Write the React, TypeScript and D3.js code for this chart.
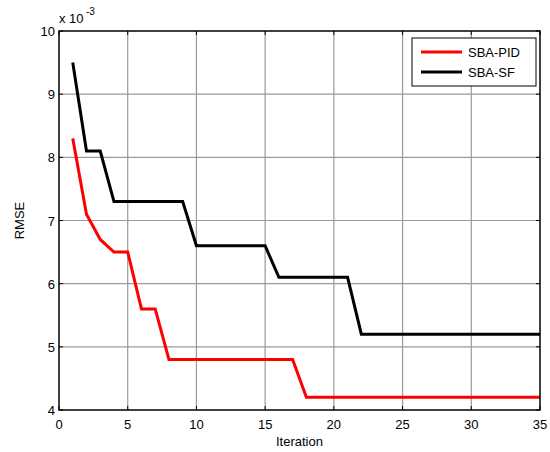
import React from "react";
import * as d3 from "d3";

const iterations = Array.from({ length: 35 }, (_, i) => i + 1);
// RMSE values (x 10^-3) per iteration
const sbaPid = [8.3, 7.1, 6.7, 6.5, 6.5, 5.6, 5.6, 4.8, 4.8, 4.8, 4.8, 4.8, 4.8, 4.8, 4.8, 4.8, 4.8, 4.2, 4.2, 4.2, 4.2, 4.2, 4.2, 4.2, 4.2, 4.2, 4.2, 4.2, 4.2, 4.2, 4.2, 4.2, 4.2, 4.2, 4.2];
const sbaSf = [9.5, 8.1, 8.1, 7.3, 7.3, 7.3, 7.3, 7.3, 7.3, 6.6, 6.6, 6.6, 6.6, 6.6, 6.6, 6.1, 6.1, 6.1, 6.1, 6.1, 6.1, 5.2, 5.2, 5.2, 5.2, 5.2, 5.2, 5.2, 5.2, 5.2, 5.2, 5.2, 5.2, 5.2, 5.2];
const xTicks = [0, 5, 10, 15, 20, 25, 30, 35];
const yTicks = [4, 5, 6, 7, 8, 9, 10];
const seriesNames = ["SBA-PID", "SBA-SF"];
const seriesColors = ["#ff0000", "#000000"];

const W = 550, H = 452;
const L = 59, R = 540, T = 31, B = 410;
const font = "'Liberation Sans', Arial, sans-serif";

export default function App() {
  const x = d3.scaleLinear().domain([0, 35]).range([L, R]);
  const y = d3.scaleLinear().domain([4, 10]).range([B, T]);
  const line = d3.line<number>().x((_, i) => x(iterations[i])).y((d) => y(d));
  const series = [sbaPid, sbaSf];
  const tk = 4;

  return (
    <svg width={W} height={H} style={{ position: "absolute", left: 0, top: 0 }} fontFamily={font}>
      <rect x={0} y={0} width={W} height={H} fill="#fff" />
      {/* grid */}
      {xTicks.slice(1, -1).map((t) => (
        <line key={"gx" + t} x1={x(t)} x2={x(t)} y1={T} y2={B} stroke="#9a9a9a" strokeWidth={1.2} />
      ))}
      {yTicks.slice(1, -1).map((t) => (
        <line key={"gy" + t} x1={L} x2={R} y1={y(t)} y2={y(t)} stroke="#9a9a9a" strokeWidth={1.2} />
      ))}
      {/* data */}
      {series.map((s, i) => (
        <path key={i} d={line(s) || ""} fill="none" stroke={seriesColors[i]} strokeWidth={3} strokeLinejoin="miter" />
      ))}
      {/* box */}
      <rect x={L} y={T} width={R - L} height={B - T} fill="none" stroke="#000" strokeWidth={1.5} />
      {/* ticks */}
      {xTicks.map((t) => (
        <g key={"tx" + t}>
          <line x1={x(t)} x2={x(t)} y1={B} y2={B - tk} stroke="#000" />
          <line x1={x(t)} x2={x(t)} y1={T} y2={T + tk} stroke="#000" />
          <text x={x(t)} y={B + 19} fontSize={13} textAnchor="middle">{t}</text>
        </g>
      ))}
      {yTicks.map((t) => (
        <g key={"ty" + t}>
          <line x1={L} x2={L + tk} y1={y(t)} y2={y(t)} stroke="#000" />
          <line x1={R} x2={R - tk} y1={y(t)} y2={y(t)} stroke="#000" />
          <text x={L - 4} y={y(t) + 5} fontSize={13} textAnchor="end">{t}</text>
        </g>
      ))}
      {/* exponent */}
      <text x={L} y={23} fontSize={13}>x 10</text>
      <text x={L + 27} y={15} fontSize={10}>-3</text>
      {/* axis labels */}
      <text x={(L + R) / 2} y={446} fontSize={13} textAnchor="middle">Iteration</text>
      <text transform={`translate(24,${(T + B) / 2}) rotate(-90)`} fontSize={13} textAnchor="middle">RMSE</text>
      {/* legend */}
      <rect x={412} y={38} width={124} height={48} fill="#fff" stroke="#000" strokeWidth={1} />
      {seriesNames.map((n, i) => (
        <g key={n}>
          <line x1={421} x2={462} y1={52 + i * 20} y2={52 + i * 20} stroke={seriesColors[i]} strokeWidth={3} />
          <text x={468} y={57 + i * 20} fontSize={13}>{n}</text>
        </g>
      ))}
    </svg>
  );
}
